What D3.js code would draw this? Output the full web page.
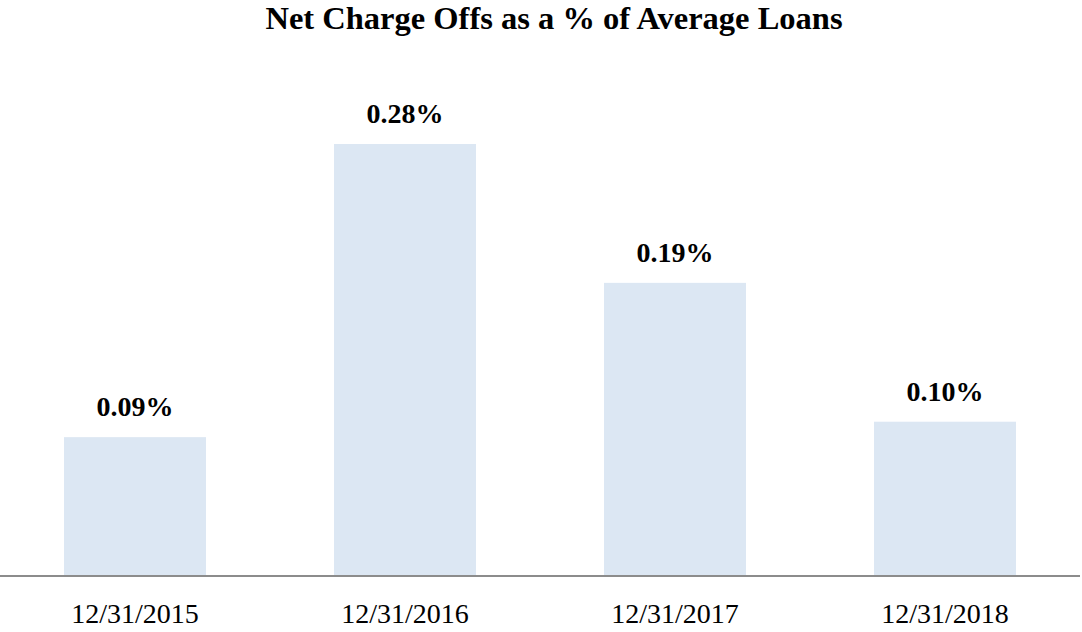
<!DOCTYPE html>
<html>
<head>
<meta charset="utf-8">
<script src="https://cdn.jsdelivr.net/npm/d3@7"></script>
<style>
  html, body { margin: 0; padding: 0; background: #fff; }
  svg { display: block; }
</style>
</head>
<body>
<svg id="chart" width="1082" height="632"></svg>
<script>
const categories = ["12/31/2015", "12/31/2016", "12/31/2017", "12/31/2018"];
const values = [0.09, 0.28, 0.19, 0.10];
const valueLabels = ["0.09%", "0.28%", "0.19%", "0.10%"];
const title = "Net Charge Offs as a % of Average Loans";

const W = 1082, H = 632;
const baseY = 576;
const svg = d3.select("#chart");
const font = "'Liberation Serif', 'Times New Roman', serif";

const x = d3.scaleBand().domain(categories).range([0, 1080])
  .paddingInner(0.474).paddingOuter(0.237);
const y = d3.scaleLinear().domain([0, 0.28]).range([baseY, 144]);

svg.append("text")
  .attr("x", 554).attr("y", 29)
  .attr("text-anchor", "middle")
  .attr("font-family", font).attr("font-weight", "bold").attr("font-size", 32.5)
  .attr("fill", "#000")
  .text(title);

svg.selectAll("rect.bar").data(values).join("rect")
  .attr("class", "bar")
  .attr("x", (d, i) => x(categories[i]))
  .attr("width", x.bandwidth())
  .attr("y", d => y(d))
  .attr("height", d => baseY - y(d))
  .attr("fill", "#dce7f3");

svg.selectAll("text.val").data(values).join("text")
  .attr("class", "val")
  .attr("x", (d, i) => x(categories[i]) + x.bandwidth() / 2)
  .attr("y", d => y(d) - 21)
  .attr("text-anchor", "middle")
  .attr("font-family", font).attr("font-weight", "bold").attr("font-size", 28)
  .attr("fill", "#000")
  .text((d, i) => valueLabels[i]);

const axis = d3.axisBottom(x).tickSize(0).tickPadding(0);
const g = svg.append("g").attr("transform", `translate(0,${baseY})`).call(axis);
g.select(".domain").remove();
g.selectAll(".tick text")
  .attr("y", 47)
  .attr("dy", 0)
  .attr("font-family", font).attr("font-size", 28)
  .attr("fill", "#000");

svg.append("line")
  .attr("x1", 0).attr("x2", 1080)
  .attr("y1", baseY).attr("y2", baseY)
  .attr("stroke", "#8c8c8c").attr("stroke-width", 2);
</script>
</body>
</html>
